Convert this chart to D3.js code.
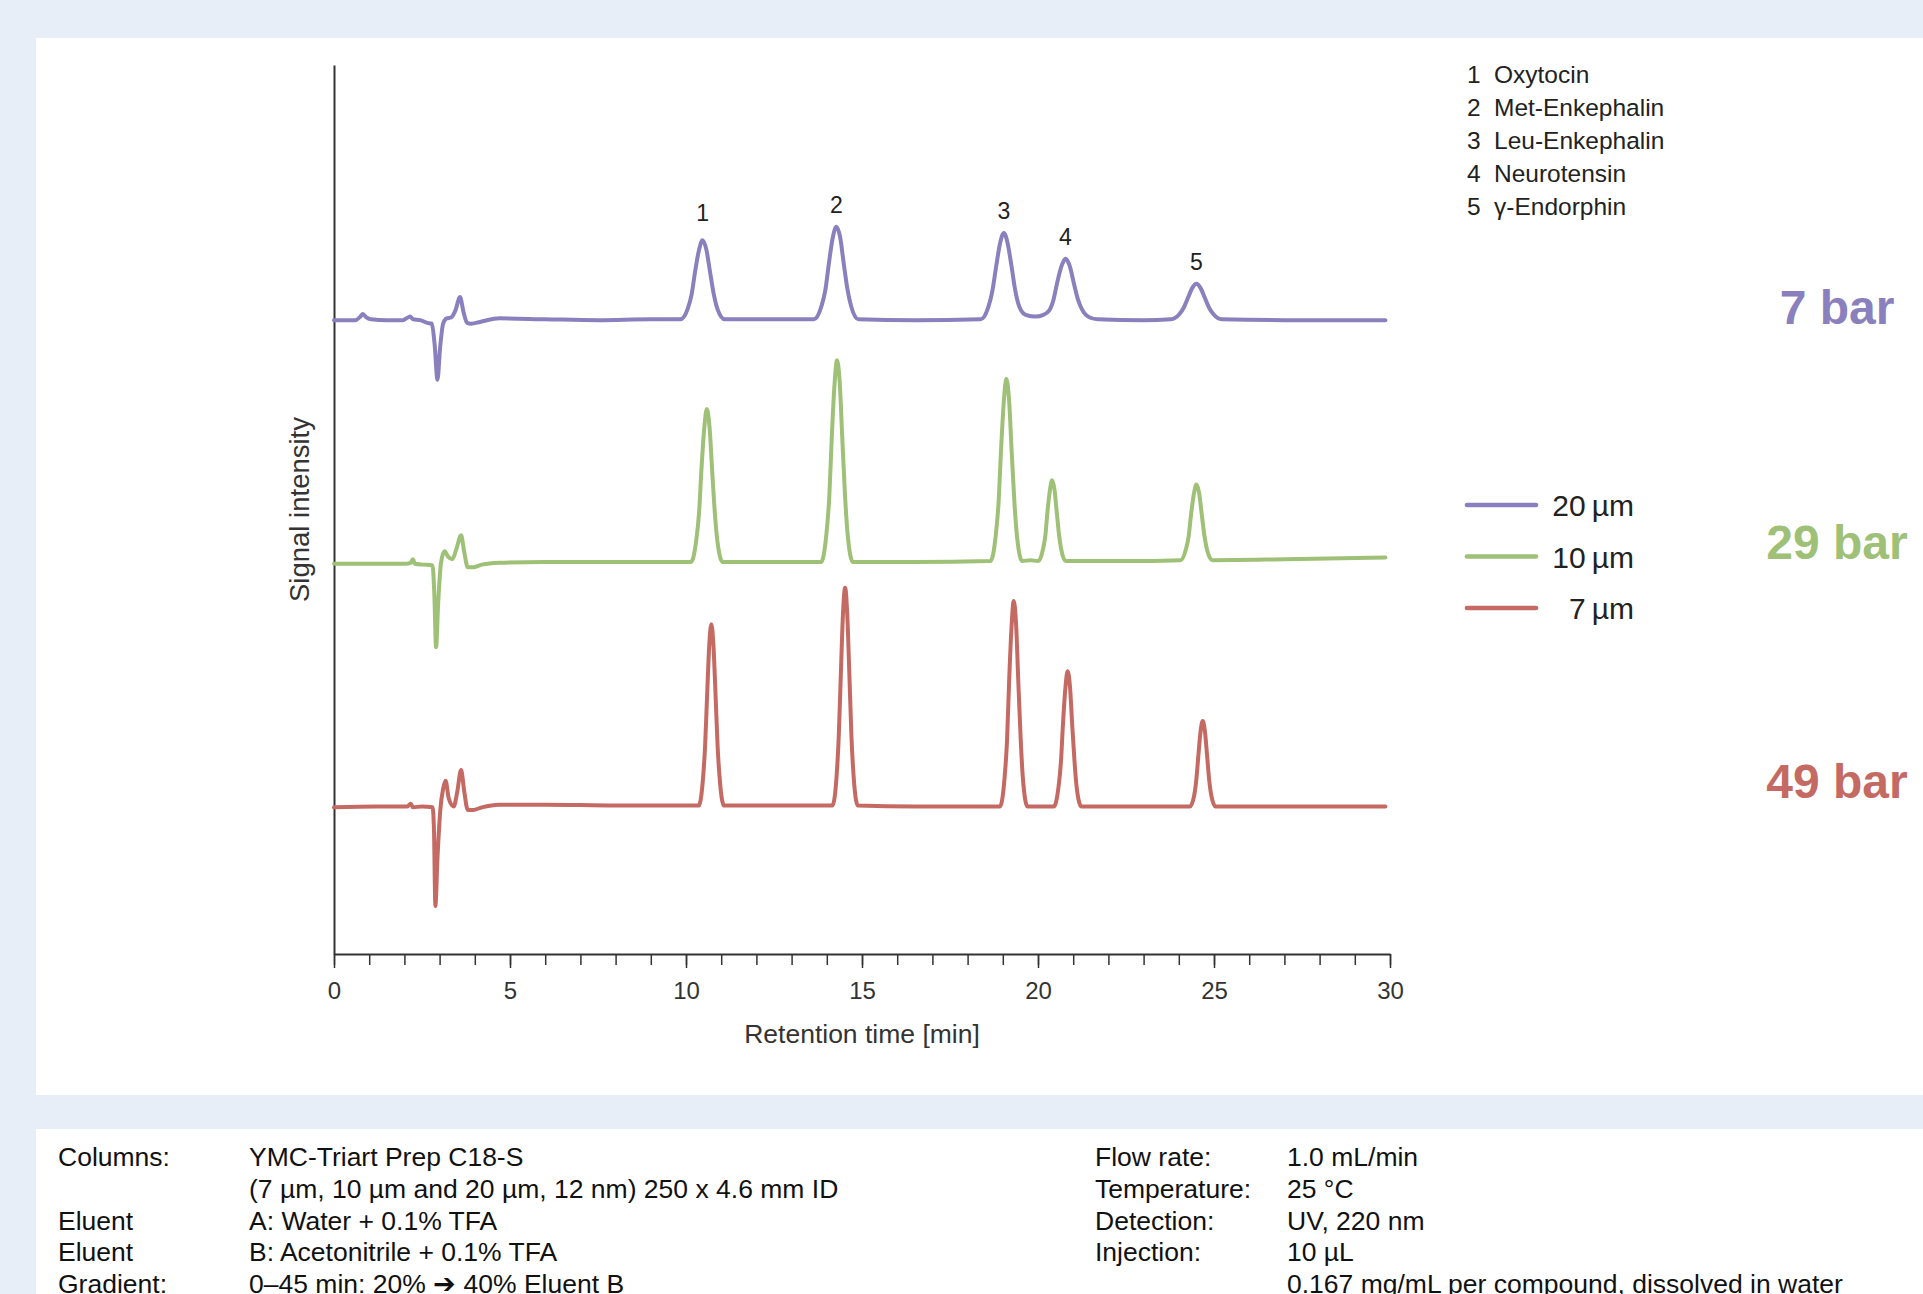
<!DOCTYPE html>
<html lang="en">
  <head>
    <meta charset="utf-8" />
    <title>Peptide separation</title>
    <script src="https://d3js.org/d3.v7.min.js"></script>
    <style>
      body {
        margin: 0;
        background: #e7eef8;
      }
      svg {
        display: block;
        font-family: "Liberation Sans", Arial, sans-serif;
      }
    </style>
  </head>
  <body>
    <div id="chart"></div>
    <script>
      // retention time [min], signal (arbitrary units)
      var trace20 = [
        [0, 71.3], [0.6, 71.3], [0.75, 71.7], [0.82, 72.0], [0.92, 71.6], [1.05, 71.4], [1.5, 71.3],
        [1.95, 71.3], [2.1, 71.6], [2.16, 71.7], [2.25, 71.4], [2.45, 71.3], [2.65, 71.0], [2.78, 70.9],
        [2.86, 68.5], [2.94, 64.6], [3.01, 68.0], [3.1, 70.9], [3.2, 71.5], [3.33, 71.6], [3.45, 72.4],
        [3.58, 73.9], [3.68, 72.2], [3.78, 71.0], [3.9, 70.9], [4.15, 71.1], [4.7, 71.5], [6, 71.4],
        [7.5, 71.3], [9, 71.4], [9.84, 71.4], [10.05, 72.6], [10.16, 74.2], [10.26, 76.8], [10.37, 79.2],
        [10.47, 80.3], [10.58, 79.2], [10.68, 76.8], [10.79, 74.2], [10.89, 72.6], [11.1, 71.4],
        [12.5, 71.4], [13.64, 71.4], [13.85, 72.9], [13.96, 74.7], [14.06, 77.7], [14.17, 80.6],
        [14.27, 81.8], [14.38, 80.6], [14.48, 77.7], [14.59, 74.7], [14.69, 72.9], [14.9, 71.4],
        [16.5, 71.3], [18.37, 71.4], [18.59, 72.8], [18.7, 74.5], [18.81, 77.3], [18.92, 79.9],
        [19.03, 81.1], [19.14, 79.9], [19.25, 77.3], [19.36, 74.5], [19.47, 72.8], [19.65, 71.9],
        [19.93, 71.7], [20.15, 71.9], [20.32, 72.4], [20.44, 73.6], [20.55, 75.6], [20.67, 77.4],
        [20.78, 78.2], [20.9, 77.4], [21.01, 75.6], [21.13, 73.7], [21.25, 72.5], [21.47, 71.6],
        [21.7, 71.4], [23, 71.3], [23.78, 71.4], [24.02, 72.0], [24.14, 72.7], [24.26, 73.8],
        [24.38, 74.9], [24.5, 75.4], [24.62, 74.9], [24.74, 73.8], [24.86, 72.7], [24.98, 72.0],
        [25.22, 71.4], [27, 71.3], [29.87, 71.3]
      ];

      var trace10 = [
        [0, 43.9], [1.2, 43.9], [2.05, 43.9], [2.18, 44.0], [2.24, 44.4], [2.3, 43.9], [2.55, 43.8],
        [2.8, 43.7], [2.85, 40.5], [2.9, 34.5], [2.96, 39.5], [3.04, 44.0], [3.14, 45.3], [3.24, 44.7],
        [3.36, 44.4], [3.48, 45.6], [3.61, 47.1], [3.7, 45.2], [3.8, 43.5], [3.95, 43.5], [4.2, 43.8],
        [4.69, 44.0], [6, 44.1], [8, 44.1], [10.14, 44.1], [10.29, 46.5], [10.37, 49.6], [10.44, 54.6],
        [10.52, 59.2], [10.59, 61.3], [10.67, 59.2], [10.74, 54.6], [10.82, 49.6], [10.89, 46.5],
        [11.04, 44.1], [12.5, 44.1], [13.84, 44.1], [13.99, 47.3], [14.07, 51.4], [14.14, 58.0],
        [14.22, 64.1], [14.29, 66.8], [14.37, 64.1], [14.44, 58.0], [14.52, 51.4], [14.59, 47.3],
        [14.74, 44.1], [16.5, 44.1], [18.65, 44.2], [18.8, 47.1], [18.88, 50.8], [18.95, 56.7],
        [19.03, 62.2], [19.1, 64.7], [19.18, 62.2], [19.25, 56.7], [19.33, 50.8], [19.4, 47.1],
        [19.55, 44.2], [19.78, 44.3], [20.01, 44.2], [20.14, 45.5], [20.21, 47.1], [20.27, 49.8],
        [20.34, 52.2], [20.4, 53.3], [20.47, 52.2], [20.53, 49.8], [20.6, 47.1], [20.66, 45.5],
        [20.79, 44.2], [22.5, 44.2], [24.05, 44.3], [24.2, 45.5], [24.28, 47.0], [24.35, 49.5],
        [24.43, 51.8], [24.5, 52.8], [24.58, 51.8], [24.65, 49.5], [24.73, 47.0], [24.8, 45.5],
        [24.95, 44.3], [27, 44.4], [29.87, 44.6]
      ];

      var trace7 = [
        [0, 16.5], [1.2, 16.6], [2.08, 16.6], [2.18, 16.9], [2.24, 16.5], [2.5, 16.6], [2.8, 16.5],
        [2.84, 14.0], [2.88, 5.4], [2.94, 10.8], [3.02, 16.2], [3.1, 18.6], [3.17, 19.5], [3.26, 17.5],
        [3.4, 16.6], [3.5, 18.2], [3.61, 20.7], [3.7, 18.3], [3.8, 16.2], [3.95, 16.2], [4.2, 16.5],
        [4.69, 16.8], [6, 16.8], [8, 16.7], [10.36, 16.7], [10.48, 19.6], [10.54, 23.2], [10.6, 29.1],
        [10.66, 34.7], [10.72, 37.1], [10.78, 34.7], [10.84, 29.1], [10.9, 23.2], [10.96, 19.6],
        [11.08, 16.7], [12.5, 16.7], [14.16, 16.7], [14.28, 20.1], [14.34, 24.5], [14.4, 31.6],
        [14.46, 38.3], [14.52, 41.2], [14.58, 38.3], [14.64, 31.6], [14.7, 24.5], [14.76, 20.1],
        [14.88, 16.7], [16.5, 16.6], [18.92, 16.6], [19.05, 19.8], [19.12, 24.0], [19.18, 30.7],
        [19.25, 36.9], [19.31, 39.7], [19.38, 36.9], [19.44, 30.7], [19.51, 24.0], [19.57, 19.8],
        [19.7, 16.6], [20.07, 16.6], [20.45, 16.6], [20.58, 18.7], [20.65, 21.5], [20.71, 25.9],
        [20.78, 30.0], [20.84, 31.8], [20.91, 30.0], [20.97, 25.9], [21.04, 21.5], [21.1, 18.7],
        [21.23, 16.6], [22.5, 16.6], [24.32, 16.6], [24.44, 17.9], [24.5, 19.7], [24.56, 22.5],
        [24.62, 25.1], [24.68, 26.2], [24.74, 25.1], [24.8, 22.5], [24.86, 19.7], [24.92, 17.9],
        [25.04, 16.6], [27, 16.6], [29.87, 16.6]
      ];

      // peak apexes on the 20 um trace, used for the numbers
      var peakNumbers = ["1", "2", "3", "4", "5"];
      var peakTimes = [10.47, 14.27, 19.03, 20.78, 24.5];
      var peakHeights = [80.3, 81.8, 81.1, 78.2, 75.4];
      var peakNames = ["Oxytocin", "Met-Enkephalin", "Leu-Enkephalin", "Neurotensin", "\u03b3-Endorphin"];

      var particleSizes = ["20\u2009\u00b5m", "10\u2009\u00b5m", "7\u2009\u00b5m"];
      var pressures = ["7 bar", "29 bar", "49 bar"];
      var colors = ["#8a80bd", "#9fc077", "#c46a63"];

      var xTicks = [0, 5, 10, 15, 20, 25, 30];
      var xMinorTicks = [0, 1, 2, 3, 4, 5, 6, 7, 8, 9, 10, 11, 12, 13, 14, 15, 16, 17, 18, 19, 20, 21, 22, 23, 24, 25, 26, 27, 28, 29, 30];

      var condLeftLabels = ["Columns:", "", "Eluent", "Eluent", "Gradient:"];
      var condLeftValues = [
        "YMC-Triart Prep C18-S",
        "(7 \u00b5m, 10 \u00b5m and 20 \u00b5m, 12 nm) 250 x 4.6 mm ID",
        "A: Water + 0.1% TFA",
        "B: Acetonitrile + 0.1% TFA",
        "0\u201345 min: 20% \u2794 40% Eluent B"
      ];
      var condRightLabels = ["Flow rate:", "Temperature:", "Detection:", "Injection:", ""];
      var condRightValues = [
        "1.0 mL/min",
        "25 \u00b0C",
        "UV, 220 nm",
        "10 \u00b5L",
        "0.167 mg/mL per compound, dissolved in water"
      ];

      var W = 1923,
        H = 1294;
      var plotLeft = 334,
        plotRight = 1390,
        plotTop = 65,
        plotBottom = 954;

      var svg = d3
        .select("#chart")
        .append("svg")
        .attr("width", W)
        .attr("height", H);

      svg.append("rect").attr("width", W).attr("height", H).attr("fill", "#e7eef8");
      svg.append("rect").attr("x", 36).attr("y", 38).attr("width", W - 36).attr("height", 1057).attr("fill", "white");
      svg.append("rect").attr("x", 36).attr("y", 1129).attr("width", W - 36).attr("height", H - 1129).attr("fill", "white");

      var x = d3.scaleLinear().domain([0, 30]).range([plotLeft, plotRight]);
      var y = d3.scaleLinear().domain([0, 100]).range([plotBottom, plotTop]);

      // x axis: minor ticks, then labelled major ticks
      var minorAxis = svg
        .append("g")
        .attr("transform", "translate(0," + plotBottom + ")")
        .call(d3.axisBottom(x).tickValues(xMinorTicks).tickSize(11).tickSizeOuter(0).tickFormat(""));
      minorAxis.select(".domain").attr("stroke", "#333").attr("stroke-width", 2);
      minorAxis.selectAll(".tick line").attr("stroke", "#333").attr("stroke-width", 1.5);

      var majorAxis = svg
        .append("g")
        .attr("transform", "translate(0," + plotBottom + ")")
        .call(d3.axisBottom(x).tickValues(xTicks).tickSize(14).tickSizeOuter(0).tickPadding(14));
      majorAxis.select(".domain").remove();
      majorAxis.selectAll(".tick line").attr("stroke", "#333").attr("stroke-width", 1.5);
      majorAxis
        .selectAll(".tick text")
        .attr("fill", "#333")
        .style("font-size", "24px")
        .style("font-family", "'Liberation Sans', Arial, sans-serif");

      var yAxis = svg
        .append("g")
        .attr("transform", "translate(" + plotLeft + ",0)")
        .call(d3.axisLeft(y).tickValues([]).tickSizeOuter(0));
      yAxis.select(".domain").attr("stroke", "#333").attr("stroke-width", 2);

      svg
        .append("text")
        .attr("x", (plotLeft + plotRight) / 2)
        .attr("y", 1043)
        .attr("text-anchor", "middle")
        .attr("fill", "#333")
        .style("font-size", "26.5px")
        .text("Retention time [min]");

      svg
        .append("text")
        .attr("transform", "translate(309," + (plotTop + plotBottom) / 2 + ") rotate(-90)")
        .attr("text-anchor", "middle")
        .attr("fill", "#333")
        .style("font-size", "27.5px")
        .text("Signal intensity");

      var line = d3
        .line()
        .x(function (d) {
          return x(d[0]);
        })
        .y(function (d) {
          return y(d[1]);
        })
        .curve(d3.curveMonotoneX);

      var traces = [trace20, trace10, trace7];
      svg
        .selectAll(".trace")
        .data(traces)
        .enter()
        .append("path")
        .attr("class", "trace")
        .attr("fill", "none")
        .attr("stroke", function (d, i) {
          return colors[i];
        })
        .attr("stroke-width", 4)
        .attr("stroke-linejoin", "round")
        .attr("stroke-linecap", "round")
        .attr("d", line);

      // peak numbers above the top trace
      svg
        .selectAll(".peaknum")
        .data(peakNumbers)
        .enter()
        .append("text")
        .attr("class", "peaknum")
        .attr("x", function (d, i) {
          return x(peakTimes[i]);
        })
        .attr("y", function (d, i) {
          return y(peakHeights[i]) - (i == 0 ? 19 : 14);
        })
        .attr("text-anchor", "middle")
        .attr("fill", "#222")
        .style("font-size", "23px")
        .text(function (d) {
          return d;
        });

      // compound list
      var names = svg.append("g");
      peakNames.forEach(function (n, i) {
        names
          .append("text")
          .attr("x", 1467)
          .attr("y", 83 + i * 33.1)
          .attr("fill", "#222")
          .style("font-size", "24.5px")
          .text(peakNumbers[i]);
        names
          .append("text")
          .attr("x", 1494)
          .attr("y", 83 + i * 33.1)
          .attr("fill", "#222")
          .style("font-size", "24.5px")
          .text(n);
      });

      // particle size legend
      var legend = svg.append("g");
      particleSizes.forEach(function (s, i) {
        var ly = 505 + i * 51.5;
        legend
          .append("line")
          .attr("x1", 1467)
          .attr("x2", 1536)
          .attr("y1", ly)
          .attr("y2", ly)
          .attr("stroke", colors[i])
          .attr("stroke-width", 4.7)
          .attr("stroke-linecap", "round");
        legend
          .append("text")
          .attr("x", 1634)
          .attr("y", ly + 11)
          .attr("text-anchor", "end")
          .attr("fill", "#222")
          .style("font-size", "30px")
          .text(s);
      });

      // pressure next to each trace
      svg
        .selectAll(".pressure")
        .data(pressures)
        .enter()
        .append("text")
        .attr("class", "pressure")
        .attr("x", 1837)
        .attr("y", function (d, i) {
          return [324, 559, 798][i];
        })
        .attr("text-anchor", "middle")
        .attr("fill", function (d, i) {
          return colors[i];
        })
        .style("font-size", "48px")
        .style("font-weight", "bold")
        .text(function (d) {
          return d;
        });

      // method conditions
      var cond = svg.append("g").style("font-size", "26.5px").attr("fill", "#111");
      condLeftLabels.forEach(function (t, i) {
        var by = 1166 + i * 31.8;
        cond.append("text").attr("x", 58).attr("y", by).text(t);
        cond.append("text").attr("x", 249).attr("y", by).text(condLeftValues[i]);
        cond.append("text").attr("x", 1095).attr("y", by).text(condRightLabels[i]);
        cond.append("text").attr("x", 1287).attr("y", by).text(condRightValues[i]);
      });
    </script>
  </body>
</html>
